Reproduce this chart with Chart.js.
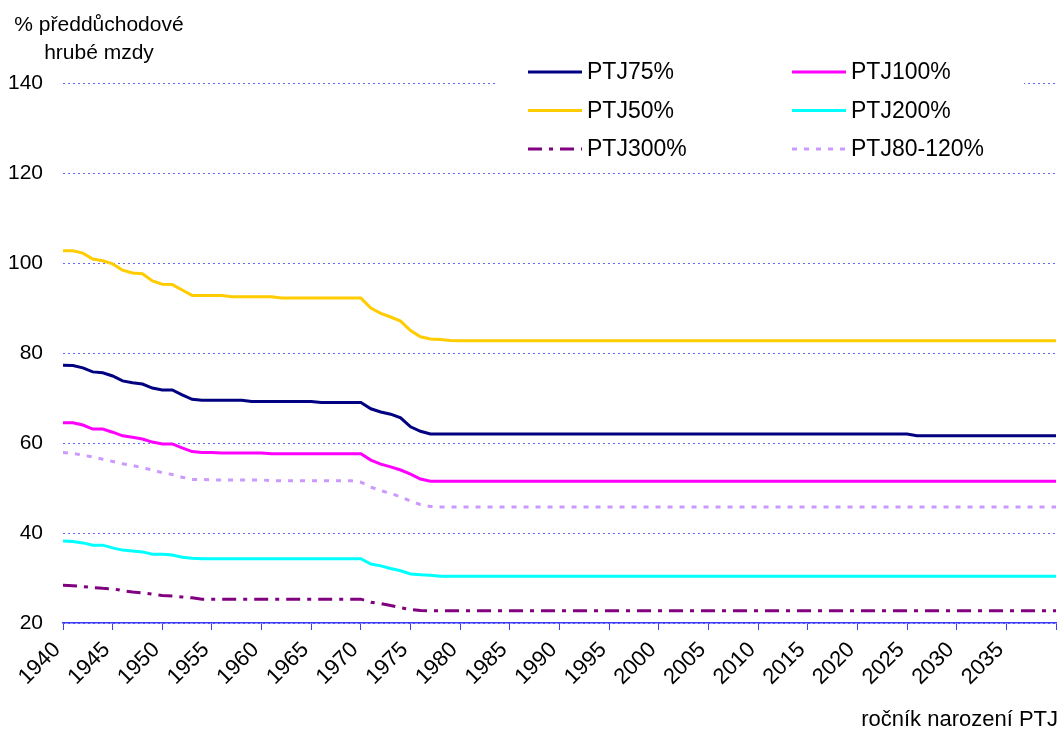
<!DOCTYPE html>
<html>
<head>
<meta charset="utf-8">
<script src="https://cdn.jsdelivr.net/npm/chart.js@4/dist/chart.umd.min.js"></script>
<style>
  body { margin: 0; background: #fff; }
  canvas { display: block; }
</style>
</head>
<body>
<canvas id="chart" width="1064" height="731"></canvas>
<script>
// ročník narození (1940 - 2040)
const years = [
  1940, 1941, 1942, 1943, 1944, 1945, 1946, 1947, 1948, 1949,
  1950, 1951, 1952, 1953, 1954, 1955, 1956, 1957, 1958, 1959,
  1960, 1961, 1962, 1963, 1964, 1965, 1966, 1967, 1968, 1969,
  1970, 1971, 1972, 1973, 1974, 1975, 1976, 1977, 1978, 1979,
  1980, 1981, 1982, 1983, 1984, 1985, 1986, 1987, 1988, 1989,
  1990, 1991, 1992, 1993, 1994, 1995, 1996, 1997, 1998, 1999,
  2000, 2001, 2002, 2003, 2004, 2005, 2006, 2007, 2008, 2009,
  2010, 2011, 2012, 2013, 2014, 2015, 2016, 2017, 2018, 2019,
  2020, 2021, 2022, 2023, 2024, 2025, 2026, 2027, 2028, 2029,
  2030, 2031, 2032, 2033, 2034, 2035, 2036, 2037, 2038, 2039,
  2040
];

const ptj75 = [
  77.3, 77.2, 76.7, 75.8, 75.6, 74.9, 73.8, 73.4, 73.1, 72.2,
  71.8, 71.8, 70.7, 69.7, 69.5, 69.5, 69.5, 69.5, 69.5, 69.2,
  69.2, 69.2, 69.2, 69.2, 69.2, 69.2, 69.0, 69.0, 69.0, 69.0,
  69.0, 67.6, 66.9, 66.4, 65.6, 63.6, 62.6, 62.0, 62.0, 62.0,
  62.0, 62.0, 62.0, 62.0, 62.0, 62.0, 62.0, 62.0, 62.0, 62.0,
  62.0, 62.0, 62.0, 62.0, 62.0, 62.0, 62.0, 62.0, 62.0, 62.0,
  62.0, 62.0, 62.0, 62.0, 62.0, 62.0, 62.0, 62.0, 62.0, 62.0,
  62.0, 62.0, 62.0, 62.0, 62.0, 62.0, 62.0, 62.0, 62.0, 62.0,
  62.0, 62.0, 62.0, 62.0, 62.0, 62.0, 61.6, 61.6, 61.6, 61.6,
  61.6, 61.6, 61.6, 61.6, 61.6, 61.6, 61.6, 61.6, 61.6, 61.6,
  61.6
];

const ptj100 = [
  64.5, 64.5, 64.0, 63.1, 63.1, 62.4, 61.6, 61.3, 60.9, 60.2,
  59.8, 59.8, 58.9, 58.1, 57.9, 57.9, 57.8, 57.8, 57.8, 57.8,
  57.8, 57.6, 57.6, 57.6, 57.6, 57.6, 57.6, 57.6, 57.6, 57.6,
  57.6, 56.2, 55.3, 54.7, 54.0, 53.1, 52.0, 51.5, 51.5, 51.5,
  51.5, 51.5, 51.5, 51.5, 51.5, 51.5, 51.5, 51.5, 51.5, 51.5,
  51.5, 51.5, 51.5, 51.5, 51.5, 51.5, 51.5, 51.5, 51.5, 51.5,
  51.5, 51.5, 51.5, 51.5, 51.5, 51.5, 51.5, 51.5, 51.5, 51.5,
  51.5, 51.5, 51.5, 51.5, 51.5, 51.5, 51.5, 51.5, 51.5, 51.5,
  51.5, 51.5, 51.5, 51.5, 51.5, 51.5, 51.5, 51.5, 51.5, 51.5,
  51.5, 51.5, 51.5, 51.5, 51.5, 51.5, 51.5, 51.5, 51.5, 51.5,
  51.5
];

const ptj50 = [
  102.7, 102.7, 102.2, 100.9, 100.5, 99.8, 98.4, 97.8, 97.6, 96.0,
  95.3, 95.2, 94.0, 92.8, 92.8, 92.8, 92.8, 92.5, 92.5, 92.5,
  92.5, 92.5, 92.2, 92.2, 92.2, 92.2, 92.2, 92.2, 92.2, 92.2,
  92.2, 90.0, 88.8, 88.0, 87.1, 85.0, 83.6, 83.1, 83.0, 82.8,
  82.7, 82.7, 82.7, 82.7, 82.7, 82.7, 82.7, 82.7, 82.7, 82.7,
  82.7, 82.7, 82.7, 82.7, 82.7, 82.7, 82.7, 82.7, 82.7, 82.7,
  82.7, 82.7, 82.7, 82.7, 82.7, 82.7, 82.7, 82.7, 82.7, 82.7,
  82.7, 82.7, 82.7, 82.7, 82.7, 82.7, 82.7, 82.7, 82.7, 82.7,
  82.7, 82.7, 82.7, 82.7, 82.7, 82.7, 82.7, 82.7, 82.7, 82.7,
  82.7, 82.7, 82.7, 82.7, 82.7, 82.7, 82.7, 82.7, 82.7, 82.7,
  82.7
];

const ptj200 = [
  38.2, 38.1, 37.8, 37.3, 37.3, 36.7, 36.2, 36.0, 35.8, 35.3,
  35.3, 35.1, 34.6, 34.4, 34.3, 34.3, 34.3, 34.3, 34.3, 34.3,
  34.3, 34.3, 34.3, 34.3, 34.3, 34.3, 34.3, 34.3, 34.3, 34.3,
  34.3, 33.1, 32.7, 32.1, 31.6, 30.9, 30.7, 30.6, 30.4, 30.4,
  30.4, 30.4, 30.4, 30.4, 30.4, 30.4, 30.4, 30.4, 30.4, 30.4,
  30.4, 30.4, 30.4, 30.4, 30.4, 30.4, 30.4, 30.4, 30.4, 30.4,
  30.4, 30.4, 30.4, 30.4, 30.4, 30.4, 30.4, 30.4, 30.4, 30.4,
  30.4, 30.4, 30.4, 30.4, 30.4, 30.4, 30.4, 30.4, 30.4, 30.4,
  30.4, 30.4, 30.4, 30.4, 30.4, 30.4, 30.4, 30.4, 30.4, 30.4,
  30.4, 30.4, 30.4, 30.4, 30.4, 30.4, 30.4, 30.4, 30.4, 30.4,
  30.4
];

const ptj300 = [
  28.4, 28.3, 28.1, 27.9, 27.7, 27.6, 27.2, 26.9, 26.7, 26.4,
  26.1, 26.0, 25.8, 25.6, 25.3, 25.3, 25.3, 25.3, 25.3, 25.3,
  25.3, 25.3, 25.3, 25.3, 25.3, 25.3, 25.3, 25.3, 25.3, 25.3,
  25.3, 24.6, 24.3, 23.9, 23.4, 23.0, 22.8, 22.7, 22.7, 22.7,
  22.7, 22.7, 22.7, 22.7, 22.7, 22.7, 22.7, 22.7, 22.7, 22.7,
  22.7, 22.7, 22.7, 22.7, 22.7, 22.7, 22.7, 22.7, 22.7, 22.7,
  22.7, 22.7, 22.7, 22.7, 22.7, 22.7, 22.7, 22.7, 22.7, 22.7,
  22.7, 22.7, 22.7, 22.7, 22.7, 22.7, 22.7, 22.7, 22.7, 22.7,
  22.7, 22.7, 22.7, 22.7, 22.7, 22.7, 22.7, 22.7, 22.7, 22.7,
  22.7, 22.7, 22.7, 22.7, 22.7, 22.7, 22.7, 22.7, 22.7, 22.7,
  22.7
];

const ptj80_120 = [
  57.9, 57.7, 57.3, 56.9, 56.4, 55.9, 55.4, 55.0, 54.5, 54.0,
  53.4, 53.0, 52.4, 51.9, 51.9, 51.8, 51.8, 51.8, 51.8, 51.8,
  51.8, 51.6, 51.6, 51.6, 51.6, 51.6, 51.6, 51.6, 51.6, 51.6,
  51.3, 50.2, 49.4, 48.8, 48.0, 47.1, 46.3, 45.9, 45.8, 45.8,
  45.8, 45.8, 45.8, 45.8, 45.8, 45.8, 45.8, 45.8, 45.8, 45.8,
  45.8, 45.8, 45.8, 45.8, 45.8, 45.8, 45.8, 45.8, 45.8, 45.8,
  45.8, 45.8, 45.8, 45.8, 45.8, 45.8, 45.8, 45.8, 45.8, 45.8,
  45.8, 45.8, 45.8, 45.8, 45.8, 45.8, 45.8, 45.8, 45.8, 45.8,
  45.8, 45.8, 45.8, 45.8, 45.8, 45.8, 45.8, 45.8, 45.8, 45.8,
  45.8, 45.8, 45.8, 45.8, 45.8, 45.8, 45.8, 45.8, 45.8, 45.8,
  45.8
];

const yTicks = [20, 40, 60, 80, 100, 120, 140];

const FONT = "'Liberation Sans', Arial, sans-serif";
const axisBlue = "#3c3cff";
const gridBlue = "#6464ff";

function points(values) {
  return years.map((y, i) => ({ x: y, y: values[i] }));
}

function series(label, values, color, dash) {
  return {
    label: label,
    data: points(values),
    borderColor: color,
    backgroundColor: color,
    borderWidth: 3,
    borderDash: dash || [],
    borderCapStyle: "butt",
    pointRadius: 0,
    tension: 0,
    fill: false
  };
}

// legenda uvnitř grafu, 2 sloupce x 3 řádky
const legendBox = {
  id: "legendBox",
  afterDraw(chart) {
    const c = chart.ctx;
    c.save();
    c.fillStyle = "#fff";
    c.fillRect(497, 54, 527, 112);
    c.font = "23px " + FONT;
    c.textBaseline = "middle";
    c.textAlign = "left";
    chart.data.datasets.forEach((ds, i) => {
      const col = i % 2;
      const row = Math.floor(i / 2);
      const x = col === 0 ? 528 : 792;
      const y = 72 + row * 38.5;
      c.strokeStyle = ds.borderColor;
      c.lineWidth = 3;
      c.setLineDash(ds.borderDash);
      c.beginPath();
      c.moveTo(x, y);
      c.lineTo(x + 54, y);
      c.stroke();
      c.setLineDash([]);
      c.fillStyle = "#000";
      c.fillText(ds.label, x + 59, y + 1);
    });

    // popisky os
    c.textAlign = "center";
    c.textBaseline = "alphabetic";
    c.font = "21px " + FONT;
    c.fillText("% předdůchodové", 99, 31);
    c.fillText("hrubé mzdy", 99, 59);
    c.textAlign = "right";
    c.font = "22px " + FONT;
    c.fillText("ročník narození PTJ", 1058, 726);
    c.restore();
  }
};

new Chart(document.getElementById("chart"), {
  type: "line",
  data: {
    datasets: [
      series("PTJ75%", ptj75, "#000080"),
      series("PTJ100%", ptj100, "#ff00ff"),
      series("PTJ50%", ptj50, "#ffcc00"),
      series("PTJ200%", ptj200, "#00ffff"),
      series("PTJ300%", ptj300, "#800080", [14, 7, 4, 7]),
      series("PTJ80-120%", ptj80_120, "#cc99ff", [5, 7])
    ]
  },
  options: {
    responsive: false,
    animation: false,
    layout: { padding: { top: 83, right: 8, left: 0, bottom: 0 } },
    plugins: {
      legend: { display: false },
      tooltip: { enabled: false }
    },
    scales: {
      x: {
        type: "linear",
        min: 1940,
        max: 2040,
        afterFit: (s) => {
          s.height = 108;
          s.paddingLeft = 0;
          s.paddingRight = 0;
        },
        ticks: {
          stepSize: 5,
          autoSkip: false,
          minRotation: 45,
          maxRotation: 45,
          padding: 7,
          labelOffset: -6,
          color: "#000",
          font: { family: FONT, size: 22 },
          callback: (v) => (v === 2040 ? "" : String(v))
        },
        grid: { drawOnChartArea: false, color: axisBlue, tickLength: 7, lineWidth: 1 },
        border: { color: axisBlue, width: 1.5 }
      },
      y: {
        min: 20,
        max: 140,
        afterFit: (s) => { s.width = 63; },
        afterBuildTicks: (s) => { s.ticks = yTicks.map((v) => ({ value: v })); },
        ticks: {
          padding: 20,
          color: "#000",
          font: { family: FONT, size: 21 }
        },
        grid: { color: gridBlue, drawTicks: false, lineWidth: 1 },
        border: { display: false, dash: [2, 3] }
      }
    }
  },
  plugins: [legendBox]
});
</script>
</body>
</html>
